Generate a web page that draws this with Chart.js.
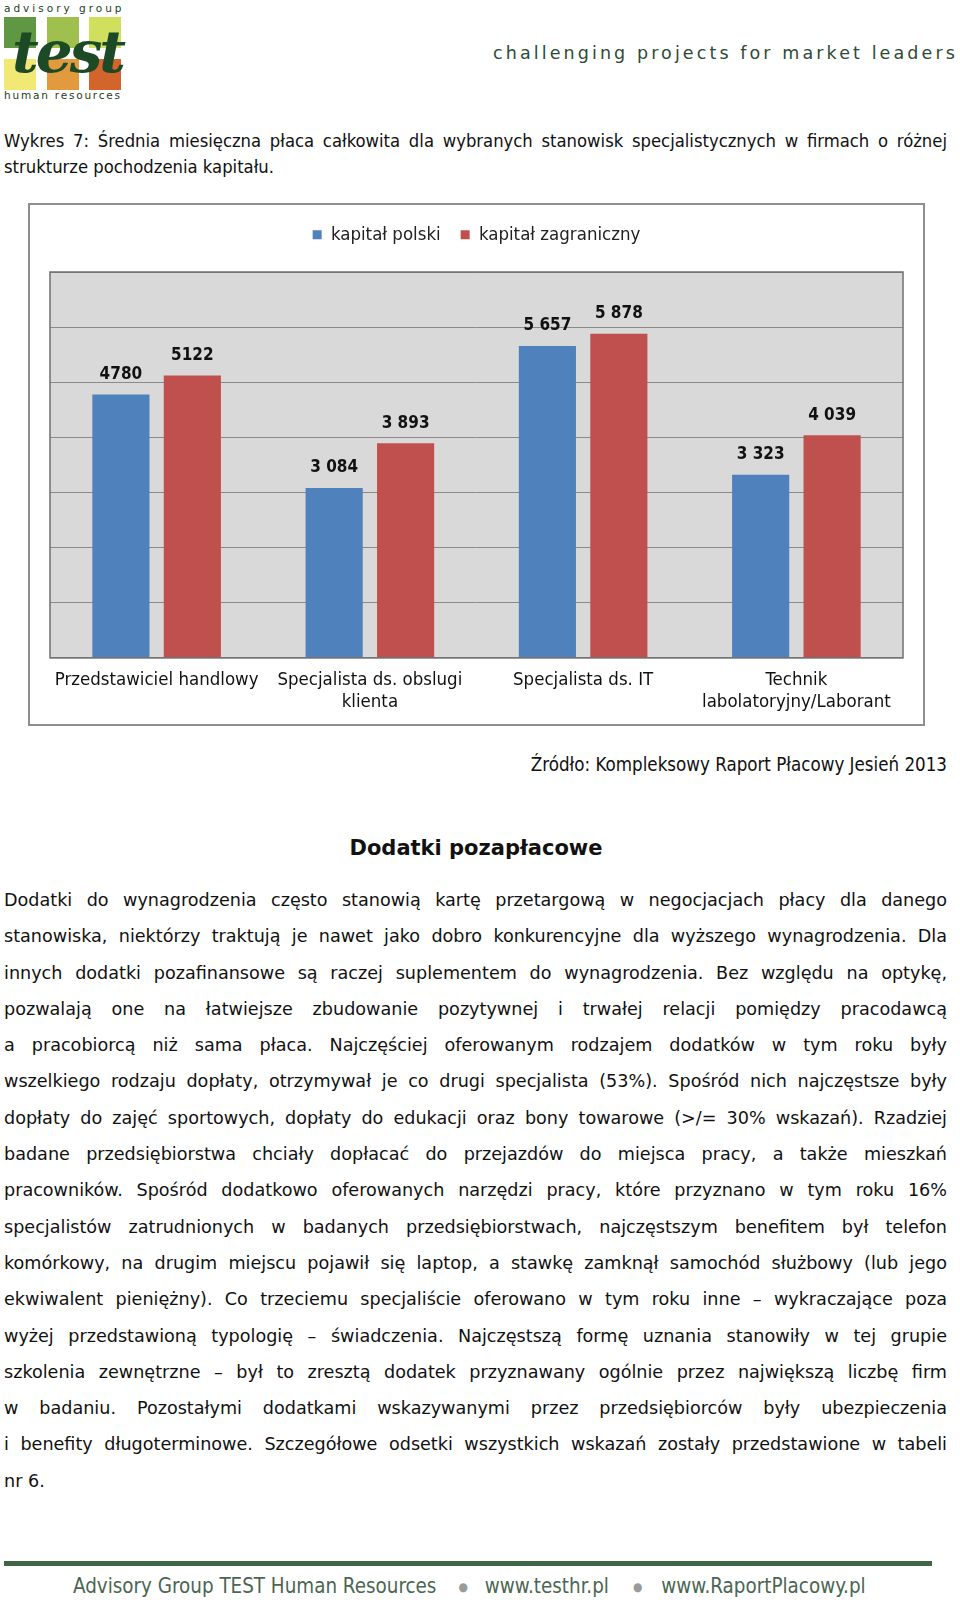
<!DOCTYPE html>
<html lang="pl">
<head>
<meta charset="utf-8">
<title>Wykres 7</title>
<script src="https://cdn.jsdelivr.net/npm/chart.js@4.4.1/dist/chart.umd.min.js"></script>
<style>
  html, body { margin: 0; padding: 0; background: #fff; }
  body { width: 960px; height: 1603px; position: relative; overflow: hidden;
         font-family: "DejaVu Sans", Verdana, sans-serif; color: #111; }
  .abs { position: absolute; }
  .cond { font-family: "DejaVu Sans Condensed", "DejaVu Sans", sans-serif; font-stretch: condensed; }
  .just div { text-align: justify; text-align-last: justify; white-space: normal; }
  .just div.last { text-align-last: left; }
  .sq { position: absolute; width: 32px; height: 31px; }
  .nw { white-space: nowrap; }
  #chartBox { left: 28px; top: 203px; width: 897px; height: 523px; box-sizing: border-box;
              border: 2px solid #8e8e8e; }
  #chartCanvas { left: 28px; top: 203px; }
</style>
</head>
<body>

<!-- logo -->
<div class="abs" style="left:4px; top:2px; width:118px; height:100px;">
  <div class="abs nw" style="left:0; top:0; font-size:10.5px; letter-spacing:3px; color:#1e3d27; line-height:12px;">advisory group</div>
  <div class="sq" style="left:0; top:15px; background:#5f9743;"></div>
  <div class="sq" style="left:43px; top:15px; background:#9fc04e;"></div>
  <div class="sq" style="left:85px; top:15px; background:#d0df5e;"></div>
  <div class="sq" style="left:0; top:57px; background:#f2e874;"></div>
  <div class="sq" style="left:43px; top:57px; background:#e29a3f;"></div>
  <div class="sq" style="left:85px; top:57px; background:#d2642c;"></div>
  <div class="abs nw" style="left:8px; top:18px; font-family:'DejaVu Serif', serif; font-weight:bold; font-style:italic;
       font-size:58px; letter-spacing:-3px; color:#1d4a26; line-height:64px;">test</div>
  <div class="abs nw" style="left:0; top:87px; font-size:10.5px; letter-spacing:1.8px; color:#1e3d27; line-height:12px;">human resources</div>
</div>

<div class="abs nw" style="left:493px; top:41px; font-size:17.5px; letter-spacing:3.1px; color:#2e4a37; line-height:24px;">challenging projects for market leaders</div>

<!-- caption -->
<div class="abs cond just" style="left:4px; top:128px; width:943px; font-size:18.3px; line-height:26px;">
  <div>Wykres 7: Średnia miesięczna płaca całkowita dla wybranych stanowisk specjalistycznych w firmach o różnej</div>
  <div class="last">strukturze pochodzenia kapitału.</div>
</div>

<!-- chart -->
<div id="chartBox" class="abs"></div>
<canvas id="chartCanvas" class="abs" width="897" height="523" style="width:897px;height:523px;"></canvas>

<div class="abs cond nw" style="right:13px; top:752px; font-size:18.6px; line-height:26px;">Źródło: Kompleksowy Raport Płacowy Jesień 2013</div>

<div class="abs" style="left:0; width:952px; text-align:center; top:834px; font-size:21px; font-weight:bold; line-height:28px;">Dodatki pozapłacowe</div>

<div class="abs just" style="left:4px; top:882px; width:943px; font-size:17.6px; line-height:36.3px;">
  <div>Dodatki do wynagrodzenia często stanowią kartę przetargową w negocjacjach płacy dla danego</div>
  <div>stanowiska, niektórzy traktują je nawet jako dobro konkurencyjne dla wyższego wynagrodzenia. Dla</div>
  <div>innych dodatki pozafinansowe są raczej suplementem do wynagrodzenia. Bez względu na optykę,</div>
  <div>pozwalają one na łatwiejsze zbudowanie pozytywnej i trwałej relacji pomiędzy pracodawcą</div>
  <div>a pracobiorcą niż sama płaca. Najczęściej oferowanym rodzajem dodatków w tym roku były</div>
  <div>wszelkiego rodzaju dopłaty, otrzymywał je co drugi specjalista (53%). Spośród nich najczęstsze były</div>
  <div>dopłaty do zajęć sportowych, dopłaty do edukacji oraz bony towarowe (&gt;/= 30% wskazań). Rzadziej</div>
  <div>badane przedsiębiorstwa chciały dopłacać do przejazdów do miejsca pracy, a także mieszkań</div>
  <div>pracowników. Spośród dodatkowo oferowanych narzędzi pracy, które przyznano w tym roku 16%</div>
  <div>specjalistów zatrudnionych w badanych przedsiębiorstwach, najczęstszym benefitem był telefon</div>
  <div>komórkowy, na drugim miejscu pojawił się laptop, a stawkę zamknął samochód służbowy (lub jego</div>
  <div>ekwiwalent pieniężny). Co trzeciemu specjaliście oferowano w tym roku inne – wykraczające poza</div>
  <div>wyżej przedstawioną typologię – świadczenia. Najczęstszą formę uznania stanowiły w tej grupie</div>
  <div>szkolenia zewnętrzne – był to zresztą dodatek przyznawany ogólnie przez największą liczbę firm</div>
  <div>w badaniu. Pozostałymi dodatkami wskazywanymi przez przedsiębiorców były ubezpieczenia</div>
  <div>i benefity długoterminowe. Szczegółowe odsetki wszystkich wskazań zostały przedstawione w tabeli</div>
  <div class="last">nr 6.</div>
</div>

<!-- footer -->
<div class="abs" style="left:4px; top:1561px; width:928px; height:5px; background:#3f6446;"></div>
<div class="abs cond nw" style="left:73px; top:1572px; font-size:20.4px; line-height:28px; color:#4b6652;">Advisory Group TEST Human Resources<span style="color:#9a9a9a; font-size:12px; margin:0 17px 0 22px; vertical-align:2px;">●</span>www.testhr.pl<span style="color:#9a9a9a; font-size:12px; margin:0 19px 0 24px; vertical-align:2px;">●</span>www.RaportPlacowy.pl</div>

<script>
// dane z wykresu
const categories = [
    ["Przedstawiciel handlowy"],
    ["Specjalista ds. obslugi", "klienta"],
    ["Specjalista ds. IT"],
    ["Technik", "labolatoryjny/Laborant"]
];
const seriesNames = ["kapitał polski", "kapitał zagraniczny"];
const kapitalPolski = [4780, 3084, 5657, 3323];
const kapitalZagraniczny = [5122, 3893, 5878, 4039];
const labelsPolski = ["4780", "3 084", "5 657", "3 323"];
const labelsZagraniczny = ["5122", "3 893", "5 878", "4 039"];
const yMax = 7000;
const yStep = 1000;

const chartFont = "'DejaVu Sans Condensed', 'DejaVu Sans', sans-serif";

// szare tlo i ramka obszaru wykresu
const plotFrame = {
    id: "plotFrame",
    beforeDraw(chart) {
        const { ctx, chartArea } = chart;
        ctx.save();
        ctx.fillStyle = "#d9d9d9";
        ctx.fillRect(chartArea.left, chartArea.top, chartArea.width, chartArea.height);
        ctx.restore();
    },
    afterDraw(chart) {
        const { ctx, chartArea } = chart;
        ctx.save();
        ctx.strokeStyle = "#6f6f6f";
        ctx.lineWidth = 1.5;
        ctx.strokeRect(chartArea.left, chartArea.top, chartArea.width, chartArea.height);
        ctx.restore();
    }
};

// wartosci nad slupkami
const valueLabels = {
    id: "valueLabels",
    afterDatasetsDraw(chart) {
        const ctx = chart.ctx;
        const texts = [labelsPolski, labelsZagraniczny];
        ctx.save();
        ctx.font = "bold 17px " + chartFont;
        ctx.fillStyle = "#111";
        ctx.textAlign = "center";
        ctx.textBaseline = "middle";
        chart.data.datasets.forEach((ds, i) => {
            const meta = chart.getDatasetMeta(i);
            meta.data.forEach((bar, j) => {
                ctx.fillText(texts[i][j], bar.x, bar.y - 20);
            });
        });
        ctx.restore();
    }
};

// odstep pod legenda
const legendGap = {
    id: "legendGap",
    beforeInit(chart) {
        const fit = chart.legend.fit;
        chart.legend.fit = function () {
            fit.call(this);
            this.height += 18;
        };
    }
};

const ctx = document.getElementById("chartCanvas").getContext("2d");
new Chart(ctx, {
    type: "bar",
    data: {
        labels: categories,
        datasets: [
            {
                label: seriesNames[0],
                data: kapitalPolski,
                backgroundColor: "#4f81bd",
                categoryPercentage: 0.67,
                barPercentage: 0.8
            },
            {
                label: seriesNames[1],
                data: kapitalZagraniczny,
                backgroundColor: "#c0504d",
                categoryPercentage: 0.67,
                barPercentage: 0.8
            }
        ]
    },
    options: {
        responsive: false,
        animation: false,
        layout: { padding: { left: 22, right: 22, top: 2.5, bottom: 1.5 } },
        plugins: {
            legend: {
                position: "top",
                labels: {
                    font: { family: chartFont, size: 18.5 },
                    color: "#222",
                    boxWidth: 9,
                    boxHeight: 9,
                    padding: 20
                }
            },
            tooltip: { enabled: false }
        },
        scales: {
            x: {
                grid: { display: false, drawTicks: false },
                border: { display: false },
                ticks: {
                    font: { family: chartFont, size: 18.5, lineHeight: 1.15 },
                    color: "#111",
                    padding: 12,
                    maxRotation: 0,
                    autoSkip: false
                }
            },
            y: {
                min: 0,
                max: yMax,
                grid: { color: "#8a8a8a", lineWidth: 1, drawTicks: false },
                border: { display: false },
                ticks: { display: false, stepSize: yStep }
            }
        }
    },
    plugins: [plotFrame, valueLabels, legendGap]
});
</script>
</body>
</html>
